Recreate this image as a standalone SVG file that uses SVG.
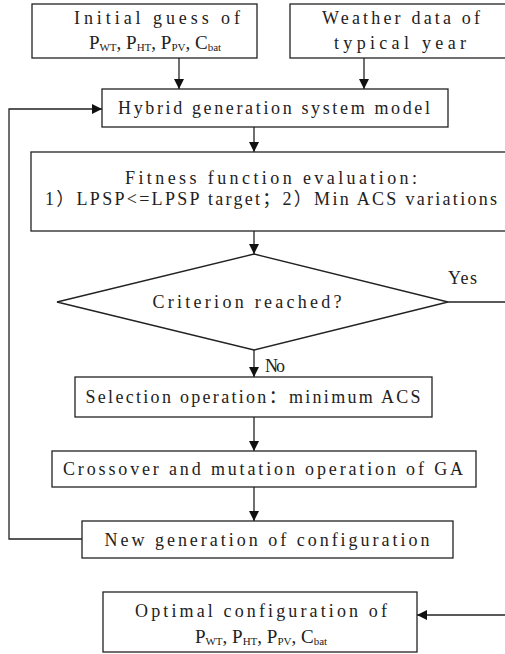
<svg xmlns="http://www.w3.org/2000/svg" width="505" height="654" viewBox="0 0 505 654">
<style>
.box{fill:#fff;stroke:#222;stroke-width:1.3}
.ln{fill:none;stroke:#222;stroke-width:1.3}
.t{font-family:"Liberation Serif","Noto Sans CJK SC",serif;font-size:18px;fill:#222;text-anchor:middle}
.s{font-family:"Liberation Serif","Noto Sans CJK SC",serif;font-size:19px;fill:#222;text-anchor:middle}
.sub{font-size:11px}
</style>
<defs>
<marker id="ah" markerUnits="userSpaceOnUse" markerWidth="10" markerHeight="10" refX="10" refY="5" orient="auto">
<path d="M0,0 L10,5 L0,10 z" fill="#111"/>
</marker>
</defs>
<rect width="505" height="654" fill="#fff"/>
<g id="connectors">
<line class="ln" x1="179" y1="58" x2="179" y2="89" marker-end="url(#ah)"/>
<line class="ln" x1="364" y1="58" x2="364" y2="89" marker-end="url(#ah)"/>
<polyline class="ln" points="82,539 9,539 9,109 102,109" marker-end="url(#ah)"/>
<line class="ln" x1="254" y1="127" x2="254" y2="152" marker-end="url(#ah)"/>
<line class="ln" x1="254" y1="231" x2="254" y2="254" marker-end="url(#ah)"/>
<line class="ln" x1="448" y1="302" x2="506" y2="302"/>
<line class="ln" x1="254" y1="350" x2="254" y2="377" marker-end="url(#ah)"/>
<line class="ln" x1="254" y1="417" x2="254" y2="451" marker-end="url(#ah)"/>
<line class="ln" x1="254" y1="487" x2="254" y2="521" marker-end="url(#ah)"/>
<line class="ln" x1="506" y1="615" x2="417" y2="615" marker-end="url(#ah)"/>
<text class="t" x="448" y="284" textLength="29" lengthAdjust="spacing" style="text-anchor:start">Yes</text>
<text class="t" x="265" y="372" textLength="20" lengthAdjust="spacing" style="text-anchor:start">No</text>
</g>
<g id="initial">
<rect class="box" x="32" y="4" width="225" height="54"/>
<text class="t" x="157" y="24" textLength="166" lengthAdjust="spacing">Initial guess of</text>
<text class="s" x="155" y="49">P<tspan class="sub" dy="1.5">WT</tspan><tspan dy="-1.5">, P</tspan><tspan class="sub" dy="1.5">HT</tspan><tspan dy="-1.5">, P</tspan><tspan class="sub" dy="1.5">PV</tspan><tspan dy="-1.5">, C</tspan><tspan class="sub" dy="1.5">bat</tspan></text>
</g>
<g id="weather">
<rect class="box" x="290" y="4" width="220" height="54"/>
<text class="t" x="401" y="24" textLength="158" lengthAdjust="spacing">Weather data of</text>
<text class="t" x="400" y="49" textLength="132" lengthAdjust="spacing">typical year</text>
</g>
<g id="hybrid">
<rect class="box" x="102" y="89" width="346" height="38"/>
<text class="t" x="274" y="114" textLength="312" lengthAdjust="spacing">Hybrid generation system model</text>
</g>
<g id="fitness">
<rect class="box" x="31" y="152" width="480" height="79"/>
<text class="t" x="271" y="184" textLength="292" lengthAdjust="spacing">Fitness function evaluation:</text>
<text class="t" x="271" y="205" textLength="452" lengthAdjust="spacing">1）LPSP&lt;=LPSP target；2）Min ACS variations</text>
</g>
<g id="criterion">
<polygon class="box" points="254,254 448,302 254,350 57,302"/>
<text class="t" x="247" y="308" textLength="189" lengthAdjust="spacing">Criterion reached?</text>
</g>
<g id="selection">
<rect class="box" x="75" y="377" width="357" height="40"/>
<text class="t" x="253" y="403" textLength="335" lengthAdjust="spacing">Selection operation：minimum ACS</text>
</g>
<g id="crossover">
<rect class="box" x="52" y="451" width="424" height="36"/>
<text class="t" x="263" y="475" textLength="400" lengthAdjust="spacing">Crossover and mutation operation of GA</text>
</g>
<g id="newgen">
<rect class="box" x="82" y="521" width="371" height="37"/>
<text class="t" x="267" y="546" textLength="325" lengthAdjust="spacing">New generation of configuration</text>
</g>
<g id="optimal">
<rect class="box" x="103" y="592" width="314" height="60"/>
<text class="t" x="261" y="617" textLength="252" lengthAdjust="spacing">Optimal configuration of</text>
<text class="s" x="261" y="643">P<tspan class="sub" dy="1.5">WT</tspan><tspan dy="-1.5">, P</tspan><tspan class="sub" dy="1.5">HT</tspan><tspan dy="-1.5">, P</tspan><tspan class="sub" dy="1.5">PV</tspan><tspan dy="-1.5">, C</tspan><tspan class="sub" dy="1.5">bat</tspan></text>
</g>
</svg>
